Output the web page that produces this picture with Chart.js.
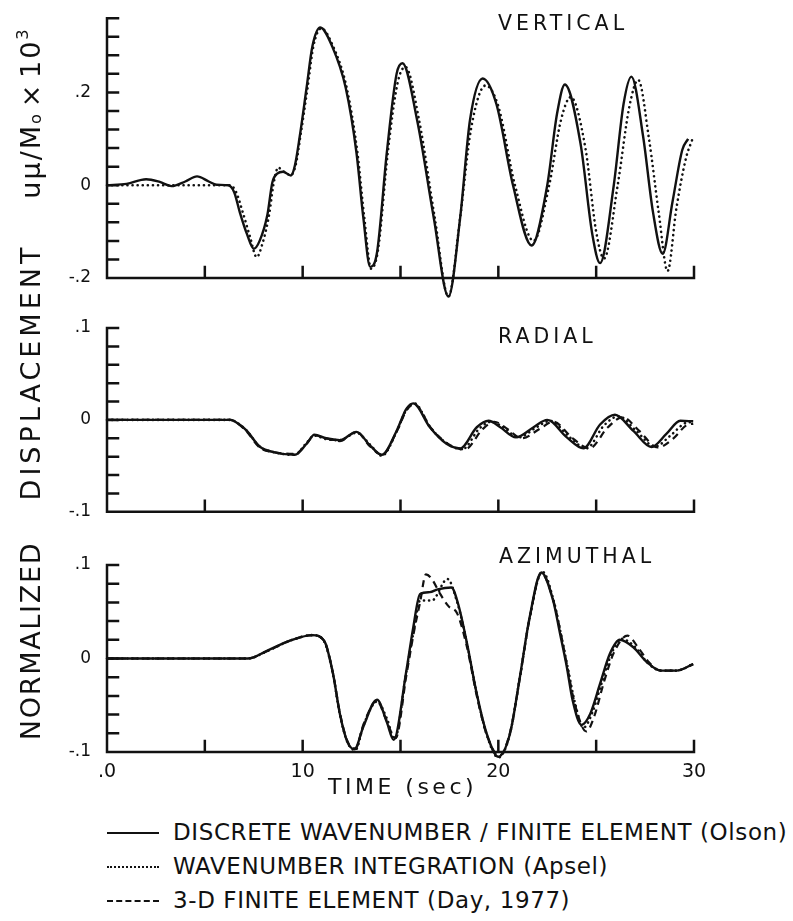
<!DOCTYPE html>
<html>
<head>
<meta charset="utf-8">
<script src="https://cdn.jsdelivr.net/npm/chart.js@4.4.0/dist/chart.umd.min.js"></script>
<style>
  html, body { margin: 0; padding: 0; background: #fff; }
  #page { position: relative; width: 793px; height: 921px; overflow: hidden; font-family: "DejaVu Sans", sans-serif; color: #111; }
  canvas { position: absolute; left: 0; }
  .txt { position: absolute; line-height: 1; white-space: nowrap; }
  .title { font-size: 20.5px; letter-spacing: 4px; }
  .ylab { position: absolute; line-height: 1; white-space: nowrap; font-size: 27px; transform: translate(-50%, -50%) rotate(-90deg); }
  .legend-row { position: absolute; left: 107px; height: 24px; }
  .legend-row .sample { position: absolute; left: 0; top: 11px; width: 52px; border-top: 2.5px solid #111; }
  .legend-row .label { position: absolute; left: 66px; top: 0; font-size: 23px; letter-spacing: 0.6px; line-height: 1; white-space: nowrap; }
  sub { font-size: 60%; vertical-align: -0.1em; }
  sup { font-size: 60%; vertical-align: 0.7em; }
</style>
</head>
<body>
<div id="page">
  <canvas id="chart-vertical" width="793" height="300" style="top:0"></canvas>
  <canvas id="chart-radial" width="793" height="230" style="top:300px"></canvas>
  <canvas id="chart-azimuthal" width="793" height="260" style="top:530px"></canvas>

  <div class="txt title" style="left:498px; top:13px">VERTICAL</div>
  <div class="txt title" style="left:498px; top:326px">RADIAL</div>
  <div class="txt title" style="left:499px; top:546px">AZIMUTHAL</div>

  <div class="ylab" style="left:30px; top:641px; letter-spacing:1.7px">NORMALIZED</div>
  <div class="ylab" style="left:30px; top:372px; letter-spacing:4px">DISPLACEMENT</div>
  <div class="ylab" style="left:30px; top:113px; letter-spacing:2px">uμ/M<sub>o</sub>&#8202;×&#8202;10<sup>3</sup></div>

  <div class="txt" style="left:328px; top:776px; font-size:22px; letter-spacing:3.5px">TIME (sec)</div>

  <div class="legend-row" style="top:821px"><div class="sample"></div><div class="label">DISCRETE WAVENUMBER / FINITE ELEMENT (Olson)</div></div>
  <div class="legend-row" style="top:855px"><div class="sample" style="border-top-style:dotted"></div><div class="label">WAVENUMBER INTEGRATION (Apsel)</div></div>
  <div class="legend-row" style="top:889px"><div class="sample" style="border-top-style:dashed"></div><div class="label">3-D FINITE ELEMENT (Day, 1977)</div></div>
</div>

<script>
// ─── Data (time in sec, normalized displacement) ─────────────────────────────

const xTickVals = [0, 10, 20, 30];
const xTickText = [".0", "10", "20", "30"];

const vertTickVals = [-0.2, 0, 0.2];
const vertTickText = ["-.2", "0", ".2"];
const sideTickVals = [-0.1, 0, 0.1];
const sideTickText = ["-.1", "0", ".1"];

// VERTICAL
const vertOlsonT = [0, 1.0, 2.0, 2.7, 3.3, 4.0, 4.6, 5.2, 5.6, 6.2, 6.5, 6.8, 7.15, 7.5, 7.8, 8.2, 8.45, 8.7, 9.0, 9.4, 9.6, 9.85, 10.2, 10.5, 10.9, 11.5, 12.2, 12.75, 13.1, 13.45, 13.8, 14.3, 14.8, 15.1, 15.85, 16.7, 17.45, 18.05, 18.55, 19.2, 19.9, 20.75, 21.7, 22.5, 23.0, 23.4, 24.2, 24.8, 25.2, 25.9, 26.4, 26.8, 27.4, 27.9, 28.4, 28.9, 29.4, 29.7];
const vertOlsonV = [0, 0.003, 0.013, 0.007, -0.002, 0.008, 0.019, 0.008, 0.001, 0, -0.015, -0.06, -0.105, -0.137, -0.12, -0.063, 0.006, 0.025, 0.029, 0.021, 0.042, 0.105, 0.21, 0.30, 0.34, 0.30, 0.21, 0.07, -0.07, -0.176, -0.145, 0.07, 0.24, 0.263, 0.14, -0.07, -0.24, -0.07, 0.14, 0.23, 0.175, 0, -0.13, 0, 0.154, 0.217, 0.09, -0.105, -0.168, 0, 0.175, 0.234, 0.105, -0.057, -0.148, -0.036, 0.076, 0.1];

const vertApselT = [0, 6.3, 6.6, 6.95, 7.3, 7.65, 7.95, 8.3, 8.5, 8.75, 9.0, 9.4, 9.65, 9.9, 10.25, 10.55, 10.95, 11.55, 12.25, 12.8, 13.15, 13.5, 13.85, 14.35, 14.85, 15.25, 15.95, 16.75, 17.45, 18.05, 18.6, 19.35, 20.0, 20.85, 21.8, 22.6, 23.2, 23.7, 24.45, 25.0, 25.4, 26.1, 26.7, 27.15, 27.7, 28.2, 28.65, 29.1, 29.6, 29.9];
const vertApselV = [0, 0, -0.015, -0.06, -0.11, -0.155, -0.125, -0.06, 0, 0.038, 0.03, 0.022, 0.045, 0.11, 0.21, 0.30, 0.338, 0.30, 0.21, 0.07, -0.07, -0.18, -0.14, 0.07, 0.22, 0.255, 0.14, -0.07, -0.24, -0.07, 0.12, 0.215, 0.17, 0, -0.12, 0, 0.14, 0.19, 0.08, -0.1, -0.158, 0, 0.17, 0.227, 0.1, -0.06, -0.185, -0.05, 0.06, 0.097];

// RADIAL
const radOlsonT = [0, 6.3, 6.7, 7.15, 7.8, 8.5, 9.6, 10.2, 10.6, 11.2, 11.9, 12.75, 13.45, 14.05, 14.8, 15.3, 15.65, 16.5, 17.35, 18.05, 18.9, 19.5, 20.1, 20.9, 21.8, 22.5, 23.5, 24.35, 25.2, 25.96, 26.9, 27.83, 28.6, 29.3, 29.96];
const radOlsonV = [0, 0, -0.004, -0.012, -0.029, -0.035, -0.038, -0.026, -0.016, -0.02, -0.022, -0.013, -0.028, -0.038, -0.012, 0.012, 0.018, -0.008, -0.026, -0.031, -0.008, -0.001, -0.008, -0.019, -0.008, 0, -0.019, -0.031, -0.005, 0.0056, -0.012, -0.0295, -0.015, -0.001, -0.0015];

const radApselT = [0, 6.3, 6.7, 7.15, 7.8, 8.5, 9.6, 10.2, 10.6, 11.2, 11.9, 12.75, 13.45, 14.05, 14.8, 15.3, 15.7, 16.55, 17.4, 18.15, 19.05, 19.65, 20.25, 21.05, 21.95, 22.65, 23.65, 24.5, 25.4, 26.15, 27.05, 28.0, 28.8, 29.5, 29.96];
const radApselV = [0, 0, -0.004, -0.012, -0.029, -0.035, -0.038, -0.025, -0.017, -0.021, -0.022, -0.014, -0.027, -0.039, -0.013, 0.011, 0.018, -0.009, -0.026, -0.032, -0.009, -0.002, -0.008, -0.019, -0.008, -0.001, -0.019, -0.031, -0.006, 0.004, -0.012, -0.029, -0.017, -0.004, -0.002];

const radDayT = [0, 6.3, 6.7, 7.15, 7.8, 8.5, 9.6, 10.2, 10.6, 11.2, 11.9, 12.75, 13.45, 14.05, 14.8, 15.3, 15.7, 16.6, 17.5, 18.3, 19.2, 19.8, 20.4, 21.2, 22.1, 22.8, 23.8, 24.65, 25.6, 26.35, 27.2, 28.15, 28.95, 29.6, 29.96];
const radDayV = [0, 0, -0.004, -0.013, -0.03, -0.035, -0.037, -0.026, -0.017, -0.02, -0.023, -0.013, -0.029, -0.038, -0.013, 0.01, 0.017, -0.01, -0.027, -0.032, -0.01, -0.002, -0.009, -0.02, -0.01, -0.002, -0.02, -0.031, -0.008, 0.003, -0.012, -0.03, -0.02, -0.006, -0.004];

// AZIMUTHAL
const azOlsonT = [0, 7.2, 8.2, 9.35, 10.5, 11.1, 11.55, 11.9, 12.3, 12.65, 13.1, 13.8, 14.3, 14.65, 15.3, 15.65, 16.0, 16.5, 16.9, 17.6, 17.95, 18.4, 18.9, 19.4, 20.0, 20.6, 21.1, 21.6, 22.2, 22.8, 23.15, 23.5, 23.8, 24.25, 24.7, 25.2, 25.7, 26.2, 26.9, 27.6, 28.3, 29.1, 29.96];
const azOlsonV = [0, 0, 0.0085, 0.019, 0.025, 0.019, -0.016, -0.059, -0.09, -0.097, -0.073, -0.044, -0.068, -0.087, -0.013, 0.033, 0.069, 0.071, 0.074, 0.076, 0.058, 0.016, -0.038, -0.08, -0.105, -0.08, -0.02, 0.044, 0.092, 0.062, 0.027, -0.009, -0.045, -0.071, -0.059, -0.027, 0.005, 0.02, 0.012, -0.004, -0.013, -0.013, -0.006];

const azApselT = [0, 7.2, 8.2, 9.35, 10.5, 11.1, 11.55, 11.9, 12.3, 12.7, 13.1, 13.8, 14.3, 14.7, 15.3, 15.7, 16.0, 16.6, 17.4, 17.9, 18.4, 18.9, 19.4, 20.0, 20.6, 21.1, 21.6, 22.25, 22.85, 23.2, 23.55, 23.9, 24.35, 24.8, 25.3, 25.8, 26.3, 27.0, 27.6, 28.3, 29.1, 29.96];
const azApselV = [0, 0, 0.008, 0.019, 0.025, 0.018, -0.017, -0.06, -0.09, -0.098, -0.072, -0.046, -0.064, -0.086, -0.014, 0.032, 0.062, 0.062, 0.085, 0.06, 0.016, -0.038, -0.081, -0.106, -0.08, -0.02, 0.043, 0.093, 0.06, 0.026, -0.01, -0.046, -0.074, -0.058, -0.025, 0.006, 0.021, 0.012, -0.004, -0.013, -0.013, -0.006];

const azDayT = [0, 7.2, 8.2, 9.35, 10.5, 11.1, 11.55, 11.9, 12.3, 12.7, 13.1, 13.8, 14.2, 14.75, 15.3, 15.7, 16.0, 16.3, 16.6, 17.0, 17.45, 17.9, 18.4, 18.9, 19.4, 20.05, 20.6, 21.1, 21.6, 22.2, 22.8, 23.2, 23.55, 23.9, 24.5, 24.9, 25.4, 25.9, 26.6, 27.2, 27.7, 28.3, 29.1, 29.96];
const azDayV = [0, 0, 0.008, 0.019, 0.025, 0.019, -0.016, -0.058, -0.089, -0.096, -0.071, -0.045, -0.062, -0.085, -0.018, 0.03, 0.06, 0.09, 0.085, 0.07, 0.056, 0.048, 0.012, -0.04, -0.081, -0.104, -0.079, -0.021, 0.043, 0.091, 0.063, 0.026, -0.012, -0.048, -0.078, -0.062, -0.025, 0.006, 0.0245, 0.01, -0.004, -0.013, -0.013, -0.006];

// ─── Helpers ─────────────────────────────────────────────────────────────────

const INK = "#111";
const pts = (t, v) => t.map((x, i) => ({ x, y: v[i] }));

function pickLabel(vals, text) {
  return (v) => {
    const i = vals.findIndex((k) => Math.abs(k - v) < 1e-6);
    return i >= 0 ? text[i] : "";
  };
}

function solid(data) {
  return { data, borderColor: INK, borderWidth: 2.4, pointRadius: 0, cubicInterpolationMode: "monotone", clip: false };
}
function dotted(data) {
  return { data, borderColor: INK, borderWidth: 2.6, borderDash: [0.1, 5], borderCapStyle: "round", pointRadius: 0, cubicInterpolationMode: "monotone", clip: false };
}
function dashed(data) {
  return { data, borderColor: INK, borderWidth: 2.2, borderDash: [7, 5], pointRadius: 0, cubicInterpolationMode: "monotone", clip: false };
}

// Axis lines and inward tick marks, drawn from the chart's own scales
const axisFrame = {
  id: "axisFrame",
  afterDatasetsDraw(chart) {
    const { ctx, chartArea: a, scales: { x, y } } = chart;
    ctx.save();
    ctx.strokeStyle = INK;
    ctx.lineWidth = 2.5;
    ctx.lineCap = "square";
    ctx.beginPath();
    ctx.moveTo(a.left, a.top);
    ctx.lineTo(a.left, a.bottom);
    ctx.lineTo(a.right, a.bottom);
    y.ticks.forEach((t) => {
      const py = y.getPixelForValue(t.value);
      ctx.moveTo(a.left, py);
      ctx.lineTo(a.left + 11, py);
    });
    x.ticks.forEach((t) => {
      if (t.value === 0) return;
      const px = x.getPixelForValue(t.value);
      ctx.moveTo(px, a.bottom);
      ctx.lineTo(px, a.bottom - 11);
    });
    ctx.stroke();
    ctx.restore();
  },
};

Chart.defaults.font.family = "'DejaVu Sans', sans-serif";
Chart.defaults.color = INK;

function makePanel(id, { datasets, yMin, yMax, yStep, tickVals, tickText, padTop, xHeight, showX }) {
  return new Chart(document.getElementById(id), {
    type: "line",
    data: { datasets },
    options: {
      responsive: false,
      animation: false,
      layout: { padding: { top: padTop, right: 99, left: 0, bottom: 0 } },
      plugins: { legend: { display: false }, tooltip: { enabled: false } },
      scales: {
        x: {
          type: "linear",
          min: 0,
          max: 30,
          grid: { display: false },
          border: { display: false },
          ticks: {
            display: showX,
            stepSize: 5,
            autoSkip: false,
            maxRotation: 0,
            padding: 1,
            font: { size: 19 },
            callback: pickLabel(xTickVals, xTickText),
          },
          afterFit: (s) => { s.height = xHeight; },
        },
        y: {
          min: yMin,
          max: yMax,
          grid: { display: false },
          border: { display: false },
          ticks: {
            stepSize: yStep,
            autoSkip: false,
            maxTicksLimit: 100,
            padding: 8,
            font: { size: 17 },
            callback: pickLabel(tickVals, tickText),
          },
          afterFit: (s) => { s.width = 107; },
        },
      },
    },
    plugins: [axisFrame],
  });
}

// ─── Panels ──────────────────────────────────────────────────────────────────

makePanel("chart-vertical", {
  datasets: [solid(pts(vertOlsonT, vertOlsonV)), dotted(pts(vertApselT, vertApselV))],
  yMin: -0.2, yMax: 0.36, yStep: 0.04,
  tickVals: vertTickVals, tickText: vertTickText,
  padTop: 12, xHeight: 22, showX: false,
});

makePanel("chart-radial", {
  datasets: [solid(pts(radOlsonT, radOlsonV)), dotted(pts(radApselT, radApselV)), dashed(pts(radDayT, radDayV))],
  yMin: -0.1, yMax: 0.1, yStep: 0.02,
  tickVals: sideTickVals, tickText: sideTickText,
  padTop: 28, xHeight: 13, showX: false,
});

makePanel("chart-azimuthal", {
  datasets: [solid(pts(azOlsonT, azOlsonV)), dotted(pts(azApselT, azApselV)), dashed(pts(azDayT, azDayV))],
  yMin: -0.1, yMax: 0.1, yStep: 0.02,
  tickVals: sideTickVals, tickText: sideTickText,
  padTop: 35, xHeight: 38, showX: true,
});
</script>
</body>
</html>
